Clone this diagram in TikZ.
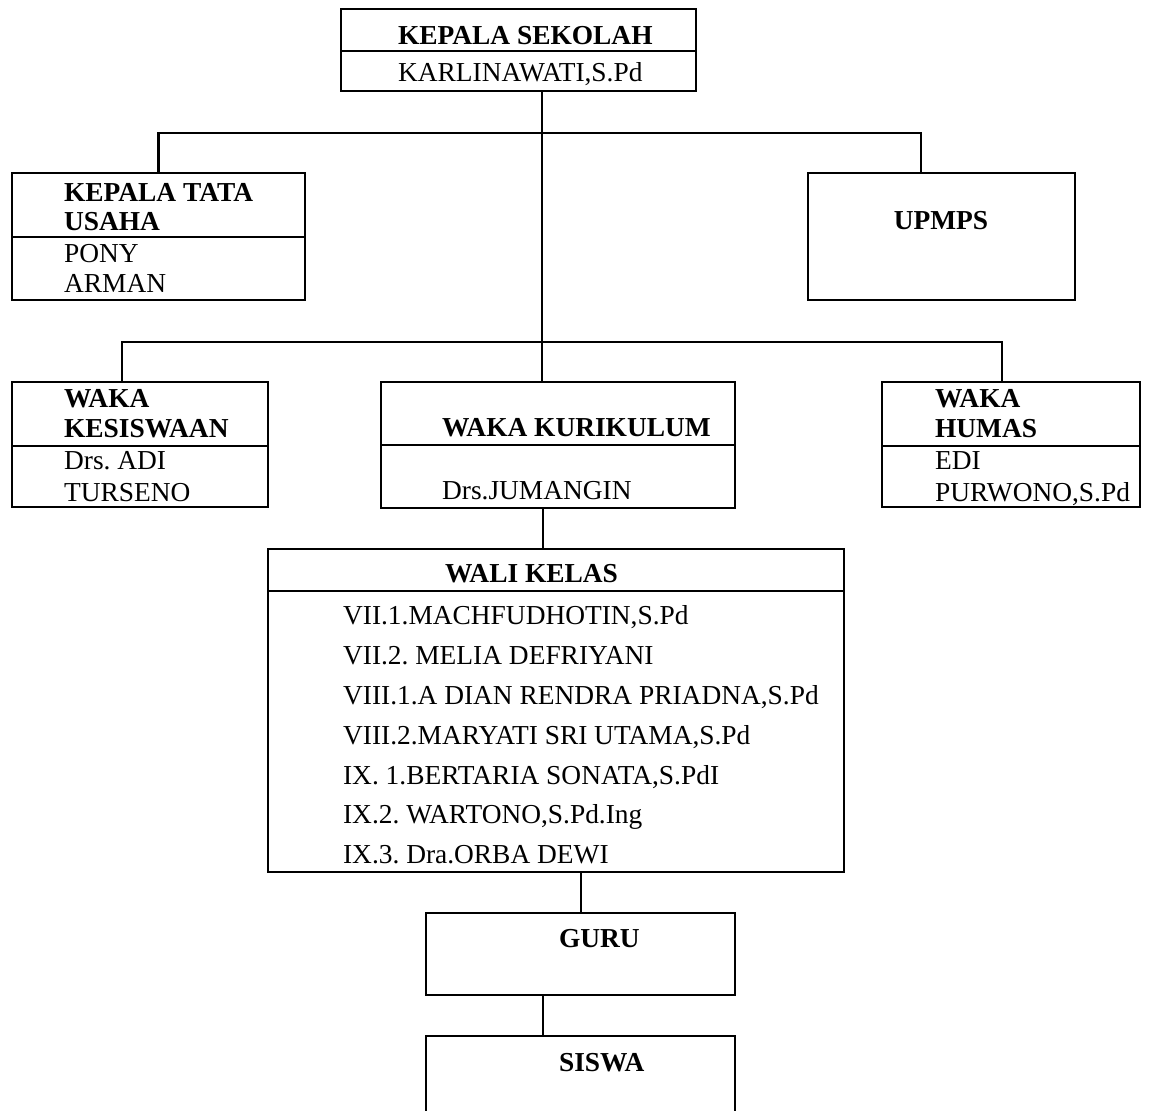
\documentclass[tikz,border=0pt]{standalone}
\usepackage{fontspec}
\setmainfont{Liberation Serif}
\usepackage{tikz}
\usetikzlibrary{fit}
\frenchspacing

\begin{document}
\begin{tikzpicture}[x=0.5pt, y=-0.5pt, line width=1.1pt,
	box/.style={draw, inner sep=0, outer sep=0},
	head/.style={font=\fontsize{13.7}{16}\selectfont\bfseries, anchor=base west, inner sep=0},
	txt/.style={font=\fontsize{13.7}{16}\selectfont, anchor=base west, inner sep=0}
]
\useasboundingbox (0,0) rectangle (1152,1111);
\clip (0,0) rectangle (1152,1111);

\node[box, fit={(341,9) (696,91)}] (ks) {};
\node[box, fit={(12,173) (305,300)}] (ktu) {};
\node[box, fit={(808,173) (1075,300)}] (upm) {};
\node[box, fit={(12,382) (268,507)}] (wks) {};
\node[box, fit={(381,382) (735,508)}] (wkk) {};
\node[box, fit={(882,382) (1140,507)}] (wkh) {};
\node[box, fit={(268,549) (844,872)}] (wali) {};
\node[box, fit={(426,913) (735,995)}] (guru) {};
\node[box, fit={(426,1036) (735,1140)}] (siswa) {};

\draw (ks.west |- 0,51) -- (ks.east |- 0,51);
\draw (ktu.west |- 0,237) -- (ktu.east |- 0,237);
\draw (wks.west |- 0,446) -- (wks.east |- 0,446);
\draw (wkk.west |- 0,445) -- (wkk.east |- 0,445);
\draw (wkh.west |- 0,446) -- (wkh.east |- 0,446);
\draw (wali.west |- 0,591) -- (wali.east |- 0,591);

\node[head] (ksh) at (397,45) {KEPALA SEKOLAH};
\node[txt] (ksn) at (397,82) {KARLINAWATI,S.Pd};

\node[head] (ktuh1) at (63,202) {KEPALA TATA};
\node[head] (ktuh2) at (63,231) {USAHA};
\node[txt] (ktun1) at (63,263) {PONY};
\node[txt] (ktun2) at (63,293) {ARMAN};

\node[head, anchor=base] (upmh) at (941,230) {UPMPS};

\node[head] (wksh1) at (63,408) {WAKA};
\node[head] (wksh2) at (63,438) {KESISWAAN};
\node[txt] (wksn1) at (63,470) {Drs. ADI};
\node[txt] (wksn2) at (63,502) {TURSENO};

\node[head] (wkkh) at (441,437) {WAKA KURIKULUM};
\node[txt] (wkkn) at (441,500) {Drs.JUMANGIN};

\node[head] (wkhh1) at (934,408) {WAKA};
\node[head] (wkhh2) at (934,438) {HUMAS};
\node[txt] (wkhn1) at (934,470) {EDI};
\node[txt] (wkhn2) at (934,502) {PURWONO,S.Pd};

\node[head] (walih) at (444,583) {WALI KELAS};
\node[txt] (wali1) at (342,625) {VII.1.MACHFUDHOTIN,S.Pd};
\node[txt] (wali2) at (342,665) {VII.2. MELIA DEFRIYANI};
\node[txt] (wali3) at (342,705) {VIII.1.A DIAN RENDRA PRIADNA,S.Pd};
\node[txt] (wali4) at (342,745) {VIII.2.MARYATI SRI UTAMA,S.Pd};
\node[txt] (wali5) at (342,785) {IX. 1.BERTARIA SONATA,S.PdI};
\node[txt] (wali6) at (342,824) {IX.2. WARTONO,S.Pd.Ing};
\node[txt] (wali7) at (342,864) {IX.3. Dra.ORBA DEWI};

\node[head] (guruh) at (558,948) {GURU};
\node[head] (siswah) at (558,1072) {SISWA};

\draw (ks.south -| 542,0) -- (wkk.north -| 542,0);
\draw (ktu.north) |- (921,133) -- (upm.north -| 921,0);
\draw (wks.north -| 122,0) |- (1002,342) -- (wkh.north -| 1002,0);
\draw (wkk.south -| 543,0) -- (wali.north -| 543,0);
\draw (wali.south -| 581,0) -- (guru.north -| 581,0);
\draw (guru.south -| 543,0) -- (siswa.north -| 543,0);
\end{tikzpicture}
\end{document}
